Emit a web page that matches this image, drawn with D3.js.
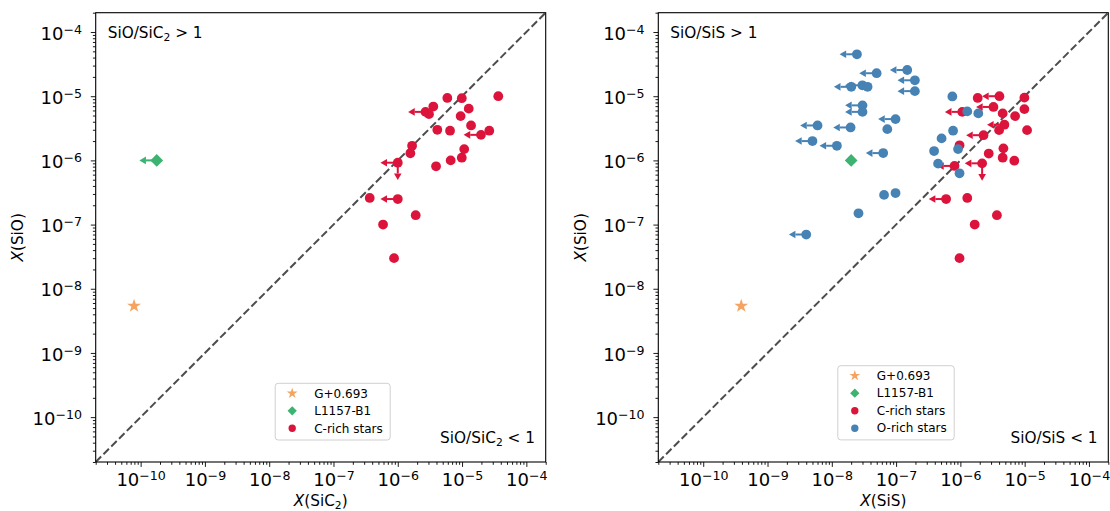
<!DOCTYPE html>
<html>
<head>
<meta charset="utf-8">
<script src="https://cdn.jsdelivr.net/npm/d3@7"></script>
<style>
  body { margin: 0; background: #fff; }
  svg { font-family: "DejaVu Sans", sans-serif; }
</style>
</head>
<body>
<svg id="chart" width="1110" height="511"></svg>
<script>
// axis limits and labelled decades (both axes, both panels)
var axisDomain = [2e-11, 2e-4];
var majorTicks = [1e-10, 1e-9, 1e-8, 1e-7, 1e-6, 1e-5, 1e-4];

var sourceNames = ["G+0.693", "L1157-B1", "C-rich stars", "O-rich stars"];

// rows: [x, X(SiO), upper limit on x, upper limit on X(SiO)]
var g0693SiC2 = [[7.9e-11, 5.4e-9, 0, 0]];
var l1157SiC2 = [[1.78e-10, 1.0e-6, 1, 0]];
var cRichSiC2 = [
    [3.66e-5, 1.0e-5, 0, 0],
    [5.9e-6, 9.4e-6, 0, 0],
    [9.9e-6, 9.3e-6, 0, 0],
    [1.27e-5, 6.4e-6, 0, 0],
    [3.57e-6, 6.9e-6, 0, 0],
    [2.7e-6, 5.7e-6, 1, 0],
    [3.06e-6, 5.25e-6, 0, 0],
    [9.5e-6, 4.9e-6, 0, 0],
    [1.38e-5, 3.5e-6, 0, 0],
    [4.12e-6, 3.0e-6, 0, 0],
    [6.5e-6, 2.9e-6, 0, 0],
    [2.65e-5, 2.9e-6, 0, 0],
    [1.97e-5, 2.5e-6, 1, 0],
    [1.67e-6, 1.69e-6, 0, 0],
    [1.57e-6, 1.29e-6, 0, 0],
    [1.08e-5, 1.5e-6, 0, 0],
    [9.9e-6, 1.1e-6, 0, 0],
    [6.65e-6, 1.0e-6, 0, 0],
    [3.94e-6, 8.1e-7, 0, 0],
    [1.0e-6, 9.2e-7, 1, 1],
    [3.66e-7, 2.6e-7, 0, 0],
    [1.0e-6, 2.5e-7, 1, 0],
    [1.9e-6, 1.4e-7, 0, 0],
    [5.9e-7, 1.0e-7, 0, 0],
    [8.75e-7, 3.0e-8, 0, 0]
];

var g0693SiS = [[3.9e-10, 5.4e-9, 0, 0]];
var l1157SiS = [[2.0e-8, 1.0e-6, 0, 0]];
var cRichSiS = [
    [4.05e-6, 1.0e-5, 1, 0],
    [1.86e-6, 9.4e-6, 0, 0],
    [9.9e-6, 9.5e-6, 0, 0],
    [9.9e-6, 6.3e-6, 0, 0],
    [3.27e-6, 6.8e-6, 1, 0],
    [1.07e-6, 5.7e-6, 1, 0],
    [4.55e-6, 5.4e-6, 0, 0],
    [7.1e-6, 4.9e-6, 0, 0],
    [4.84e-6, 3.6e-6, 1, 0],
    [4.0e-6, 2.96e-6, 0, 0],
    [1.09e-5, 2.96e-6, 0, 0],
    [2.29e-6, 2.47e-6, 1, 0],
    [9.7e-7, 1.72e-6, 0, 0],
    [2.76e-6, 1.28e-6, 0, 0],
    [4.67e-6, 1.54e-6, 0, 0],
    [4.55e-6, 1.1e-6, 0, 0],
    [6.9e-6, 9.9e-7, 0, 0],
    [8.1e-7, 8.2e-7, 1, 0],
    [2.18e-6, 9.0e-7, 1, 1],
    [6.0e-7, 2.5e-7, 1, 0],
    [1.28e-6, 2.6e-7, 0, 0],
    [3.7e-6, 1.4e-7, 0, 0],
    [1.67e-6, 1.0e-7, 0, 0],
    [9.7e-7, 3.0e-8, 0, 0]
];
var oRichSiS = [
    [2.46e-8, 4.5e-5, 1, 0],
    [4.98e-8, 2.28e-5, 1, 0],
    [1.49e-7, 2.56e-5, 1, 0],
    [1.96e-7, 1.77e-5, 1, 0],
    [1.96e-7, 1.2e-5, 1, 0],
    [2.01e-8, 1.4e-5, 1, 0],
    [2.99e-8, 1.48e-5, 1, 0],
    [3.6e-8, 1.4e-5, 0, 0],
    [3.0e-8, 7.2e-6, 1, 0],
    [3.0e-8, 5.7e-6, 1, 0],
    [9.8e-8, 4.4e-6, 1, 0],
    [6.0e-9, 3.5e-6, 1, 0],
    [1.96e-8, 3.26e-6, 1, 0],
    [7.3e-8, 3.07e-6, 0, 0],
    [5.0e-9, 2.0e-6, 1, 0],
    [1.2e-8, 1.69e-6, 1, 0],
    [6.3e-8, 1.3e-6, 1, 0],
    [6.5e-8, 2.9e-7, 0, 0],
    [9.8e-8, 3.1e-7, 0, 0],
    [2.6e-8, 1.5e-7, 0, 0],
    [4.0e-9, 7.0e-8, 1, 0],
    [7.5e-7, 9.9e-6, 0, 0],
    [1.28e-6, 5.8e-6, 0, 0],
    [1.9e-6, 5.4e-6, 0, 0],
    [7.7e-7, 2.9e-6, 0, 0],
    [5.1e-7, 2.2e-6, 0, 0],
    [3.9e-7, 1.4e-6, 0, 0],
    [9.2e-7, 1.5e-6, 0, 0],
    [4.5e-7, 8.9e-7, 0, 0],
    [9.7e-7, 6.3e-7, 0, 0]
];

var styles = [
    { color: "#F4A460", type: d3.symbolStar, size: 60, legendSize: 36, rotate: 0 },
    { color: "#3CB371", type: d3.symbolSquare, size: 81, legendSize: 43, rotate: 45 },
    { color: "#DC143C", type: d3.symbolCircle, size: 75, legendSize: 43, rotate: 0 },
    { color: "#4682B4", type: d3.symbolCircle, size: 75, legendSize: 43, rotate: 0 }
];

var panels = [
    {
        left: 95.7, molecule: "SiC", sub: "2",
        series: [g0693SiC2, l1157SiC2, cRichSiC2],
        legendTop: 383.3
    },
    {
        left: 658.3, molecule: "SiS", sub: "",
        series: [g0693SiS, l1157SiS, cRichSiS, oRichSiS],
        legendTop: 365.7
    }
];

var plotTop = 12.7, plotSize = 450, plotH = 449.3;
var arrowFactor = 0.68;

var svg = d3.select("#chart");

function richText(text, parts) {
    parts.forEach(function (p) {
        var t = text.append("tspan").text(p[0]);
        if (p[1] === "i") t.attr("font-style", "italic");
        if (p[1] === "sub") t.attr("font-size", "70%").attr("dy", 2.8);
        if (p[1] === "unsub") t.attr("dy", -2.8);
    });
}

// "10" plus a raised exponent, the way matplotlib writes log ticks
function powerLabels(sel) {
    sel.each(function (d) {
        var t = d3.select(this).text(null);
        t.append("tspan").text("10");
        t.append("tspan").attr("dy", -6).attr("font-size", "70%")
            .text("\u2212" + Math.abs(Math.round(Math.log10(d))));
    });
}

function withMolecule(prefix, p, suffix) {
    if (p.sub) return [[prefix + p.molecule, ""], [p.sub, "sub"], [suffix, "unsub"]];
    return [[prefix + p.molecule + suffix, ""]];
}

function drawPanel(p) {
    var g = svg.append("g").attr("transform", "translate(" + p.left + "," + plotTop + ")");
    var x = d3.scaleLog().domain(axisDomain).range([0, plotSize]);
    var y = d3.scaleLog().domain(axisDomain).range([plotH, 0]);
    var minor = x.ticks().filter(function (t) {
        return Math.abs(Math.log10(t) - Math.round(Math.log10(t))) > 1e-6;
    });

    var clipId = "clip" + Math.round(p.left);
    g.append("clipPath").attr("id", clipId).append("rect")
        .attr("width", plotSize).attr("height", plotH);

    // 1:1 line
    g.append("line")
        .attr("clip-path", "url(#" + clipId + ")")
        .attr("x1", x(axisDomain[0])).attr("y1", y(axisDomain[0]))
        .attr("x2", x(axisDomain[1])).attr("y2", y(axisDomain[1]))
        .attr("stroke", "#4d4d4d").attr("stroke-width", 2)
        .attr("stroke-dasharray", "7.7,3.3");

    // axes
    var xa = g.append("g").attr("transform", "translate(0," + plotH + ")");
    xa.append("g").call(d3.axisBottom(x).tickValues(minor).tickSize(2.8).tickSizeOuter(0).tickFormat(""));
    xa.append("g").call(d3.axisBottom(x).tickValues(majorTicks).tickSize(4.9).tickSizeOuter(0).tickPadding(4.8))
        .selectAll("text").attr("dy", "0.8em").call(powerLabels);
    var ya = g.append("g");
    ya.append("g").call(d3.axisLeft(y).tickValues(minor).tickSize(2.8).tickSizeOuter(0).tickFormat(""));
    ya.append("g").call(d3.axisLeft(y).tickValues(majorTicks).tickSize(4.9).tickSizeOuter(0).tickPadding(8.8))
        .selectAll("text").attr("dy", "0.4em").call(powerLabels);
    g.selectAll(".domain").remove();
    g.selectAll(".tick line").attr("stroke", "#000").attr("stroke-width", 0.9);
    g.selectAll(".tick text").attr("font-size", 18).attr("fill", "#000").attr("font-family", "DejaVu Sans");

    g.append("rect").attr("width", plotSize).attr("height", plotH)
        .attr("fill", "none").attr("stroke", "#000").attr("stroke-width", 1.1);

    // points with upper-limit arrows
    p.series.forEach(function (rows, i) {
        var st = styles[i];
        var s = g.append("g").attr("fill", st.color).attr("stroke", st.color);
        rows.forEach(function (d) {
            var cx = x(d[0]), cy = y(d[1]);
            if (d[2]) {
                var bx = x(d[0] * arrowFactor);
                s.append("line").attr("x1", cx).attr("y1", cy).attr("x2", bx).attr("y2", cy)
                    .attr("stroke-width", 2);
                s.append("path").attr("stroke", "none")
                    .attr("d", "M" + bx + "," + (cy - 3.8) + "L" + (bx - 6.6) + "," + cy + "L" + bx + "," + (cy + 3.8) + "Z");
            }
            if (d[3]) {
                var by = y(d[1] * arrowFactor);
                s.append("line").attr("x1", cx).attr("y1", cy).attr("x2", cx).attr("y2", by)
                    .attr("stroke-width", 2);
                s.append("path").attr("stroke", "none")
                    .attr("d", "M" + (cx - 3.8) + "," + by + "L" + cx + "," + (by + 6.6) + "L" + (cx + 3.8) + "," + by + "Z");
            }
        });
        s.selectAll(".pt").data(rows).enter().append("path")
            .attr("class", "pt").attr("stroke", "none")
            .attr("transform", function (d) {
                return "translate(" + x(d[0]) + "," + y(d[1]) + ") rotate(" + st.rotate + ")";
            })
            .attr("d", d3.symbol().type(st.type).size(st.size));
    });

    // region notes
    var upper = g.append("text").attr("x", 12).attr("y", 25.6).attr("font-size", 15.3);
    richText(upper, withMolecule("SiO/", p, " > 1"));
    var lower = g.append("text").attr("x", plotSize - 10.7).attr("y", 430.3)
        .attr("font-size", 15.3).attr("text-anchor", "end");
    richText(lower, withMolecule("SiO/", p, " < 1"));

    // axis titles
    var xt = g.append("text").attr("x", plotSize / 2).attr("y", 493.3)
        .attr("font-size", 15.3).attr("text-anchor", "middle");
    richText(xt, [["X", "i"]].concat(withMolecule("(", p, ")")));
    var yt = g.append("text").attr("transform", "translate(-72.7," + (plotH / 2) + ") rotate(-90)")
        .attr("font-size", 15.3).attr("text-anchor", "middle");
    richText(yt, [["X", "i"], ["(SiO)", ""]]);

    // legend
    var n = p.series.length;
    var lg = g.append("g").attr("transform", "translate(179.5," + (p.legendTop - plotTop) + ")");
    var box = lg.append("rect").attr("rx", 3).attr("ry", 3)
        .attr("fill", "#fff").attr("fill-opacity", 0.8)
        .attr("stroke", "#d0d0d0").attr("stroke-width", 1);
    var maxW = 0;
    for (var i = 0; i < n; i++) {
        var st = styles[i];
        var ry = 10 + i * 17.5;
        lg.append("path").attr("fill", st.color)
            .attr("transform", "translate(17," + ry + ") rotate(" + st.rotate + ")")
            .attr("d", d3.symbol().type(st.type).size(st.legendSize));
        var t = lg.append("text").attr("x", 39).attr("y", ry + 4.3)
            .attr("font-size", 12).text(sourceNames[i]);
        maxW = Math.max(maxW, t.node().getComputedTextLength());
    }
    box.attr("width", 39 + maxW + 7.5).attr("height", 10 + (n - 1) * 17.5 + 11.7);
}

panels.forEach(drawPanel);
</script>
</body>
</html>
